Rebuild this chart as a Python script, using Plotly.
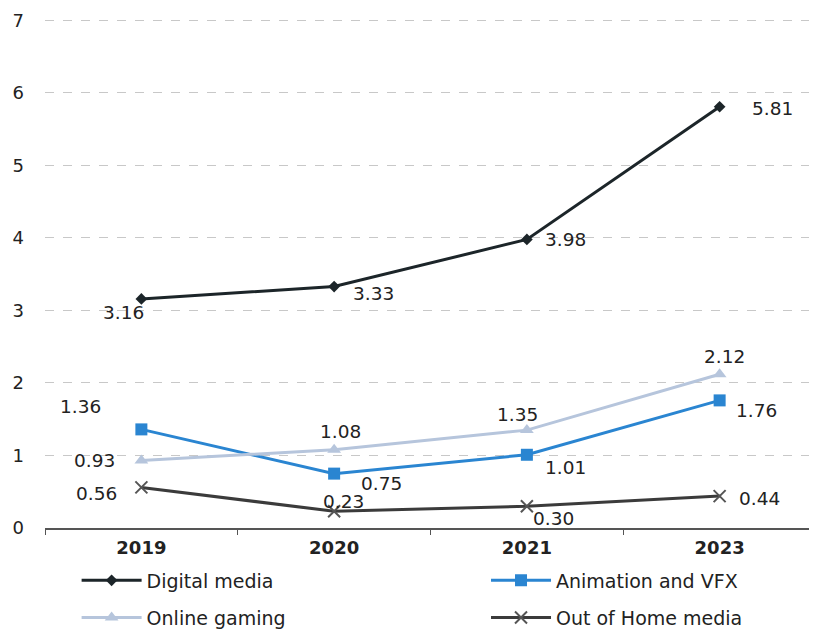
import plotly.graph_objects as go

years = ["2019", "2020", "2021", "2023"]
digital_media = [3.16, 3.33, 3.98, 5.81]
animation_vfx = [1.36, 0.75, 1.01, 1.76]
online_gaming = [0.93, 1.08, 1.35, 2.12]
out_of_home = [0.56, 0.23, 0.30, 0.44]
y_ticks = [0, 1, 2, 3, 4, 5, 6, 7]

# label offsets in pixels (style only)
off_dm = [(-18, -14), (39, -7), (39, 0), (53, -2)]
off_an = [(-61, 23), (47, -10), (39, -13), (37, -10)]
off_og = [(-47, 0), (6, 18), (-9, 16), (5, 18)]
off_oh = [(-45, -6), (9, 10), (27, -12), (40, -2)]

FONT = "DejaVu Sans, Liberation Sans, Arial, sans-serif"
fig = go.Figure()

series = [
    ("Digital media", digital_media, "#1c2529", dict(symbol="diamond", size=9), "legend", off_dm),
    ("Animation and VFX", animation_vfx, "#2a85d1", dict(symbol="square", size=12), "legend2", off_an),
    ("Online gaming", online_gaming, "#b6c5dc", dict(symbol="triangle-up", size=12), "legend3", off_og),
    ("Out of Home media", out_of_home, "#3b3b3b", dict(symbol="x-thin", size=12, line=dict(width=2, color="#555")), "legend4", off_oh),
]

annotations = []
for name, vals, color, mk, leg, offs in series:
    fig.add_trace(go.Scatter(
        x=years, y=vals, name=name, mode="lines+markers",
        line=dict(color=color, width=3),
        marker=dict(color=color, **mk),
        legend=leg,
    ))
    for i, (v, (dx, dy)) in enumerate(zip(vals, offs)):
        annotations.append(dict(
            x=i, y=v, xref="x", yref="y", text=f"{v:.2f}", showarrow=False,
            xshift=dx, yshift=dy, font=dict(size=18.5, color="#222", family=FONT),
        ))

leg_common = dict(orientation="h", xanchor="left", yanchor="middle", itemwidth=60,
                  font=dict(size=19, color="#222", family=FONT), bgcolor="rgba(0,0,0,0)")
fig.update_layout(
    width=809, height=630,
    margin=dict(l=37, r=1, t=11, b=110, autoexpand=False),
    paper_bgcolor="white", plot_bgcolor="white",
    font=dict(family=FONT, color="#222"),
    annotations=annotations,
    showlegend=True,
    legend=dict(x=0.041, y=-0.103, **leg_common),
    legend2=dict(x=0.572, y=-0.103, **leg_common),
    legend3=dict(x=0.041, y=-0.176, **leg_common),
    legend4=dict(x=0.572, y=-0.176, **leg_common),
)
fig.update_xaxes(
    type="category", range=[-0.5, 3.5], showgrid=False, showline=True, linecolor="#555", linewidth=1.5,
    ticks="outside", tickson="boundaries", ticklen=5, tickcolor="#555", ticklabelstandoff=3,
    tickfont=dict(size=18, color="#222", family=FONT),
    tickvals=years, ticktext=[f"<b>{y}</b>" for y in years], automargin=False,
)
fig.update_yaxes(
    range=[0, 7.02], tickvals=y_ticks, showgrid=True, gridcolor="#c8c8c8", griddash="dash",
    gridwidth=1, zeroline=False, showline=False, ticklabelstandoff=20, automargin=False,
    tickfont=dict(size=18, color="#222", family=FONT),
)
fig.write_html("out.html")
